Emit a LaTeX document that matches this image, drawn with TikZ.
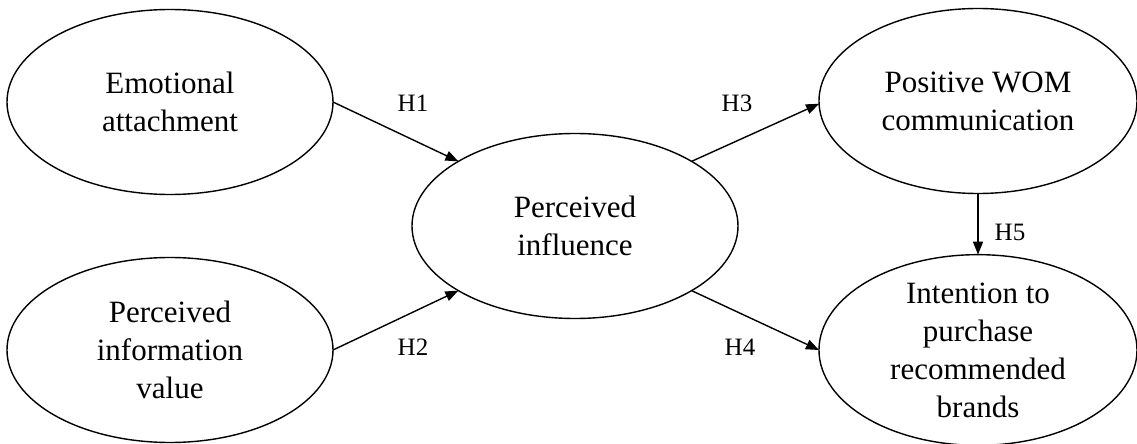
\documentclass[tikz,border=0pt]{standalone}
\usepackage{fontspec}
\setmainfont{Liberation Serif}
\usetikzlibrary{shapes.geometric,arrows.meta}
\begin{document}
\begin{tikzpicture}[x=0.5pt,y=-0.5pt,
  construct/.style={draw,line width=0.7pt,ellipse,inner sep=0pt,outer sep=0pt,
    minimum width=163pt,minimum height=92.5pt,align=center,
    font=\fontsize{15.5pt}{19pt}\selectfont},
  link/.style={draw,line width=0.7pt,-{Triangle[length=6.5pt,width=5pt]}},
  hyp/.style={font=\fontsize{12.5pt}{15pt}\selectfont,inner sep=0pt}]
\useasboundingbox (0,0) rectangle (1137,444);
\node[construct] (EA) at (170,102) {Emotional\\attachment};
\node[construct] (PIV) at (170,350) {Perceived\\information\\value};
\node[construct] (PI) at (575,226) {Perceived\\influence};
\node[construct,minimum width=159pt] (WOM) at (978,101) {Positive WOM\\communication};
\node[construct,minimum width=159pt] (INT) at (978,350) {Intention to\\purchase\\recommended\\brands};
\draw[link] (EA.east) -- (PI.151);
\draw[link] (PIV.east) -- (PI.209);
\draw[link] (PI.29) -- (WOM.181);
\draw[link] (PI.331) -- (INT.west);
\draw[link] (WOM.south) -- (INT.north);
\node[hyp] (h1) at (413,103) {H1};
\node[hyp] (h2) at (413,347) {H2};
\node[hyp] (h3) at (737,103) {H3};
\node[hyp] (h4) at (740,347) {H4};
\node[hyp] (h5) at (1010,232) {H5};
\end{tikzpicture}
\end{document}
